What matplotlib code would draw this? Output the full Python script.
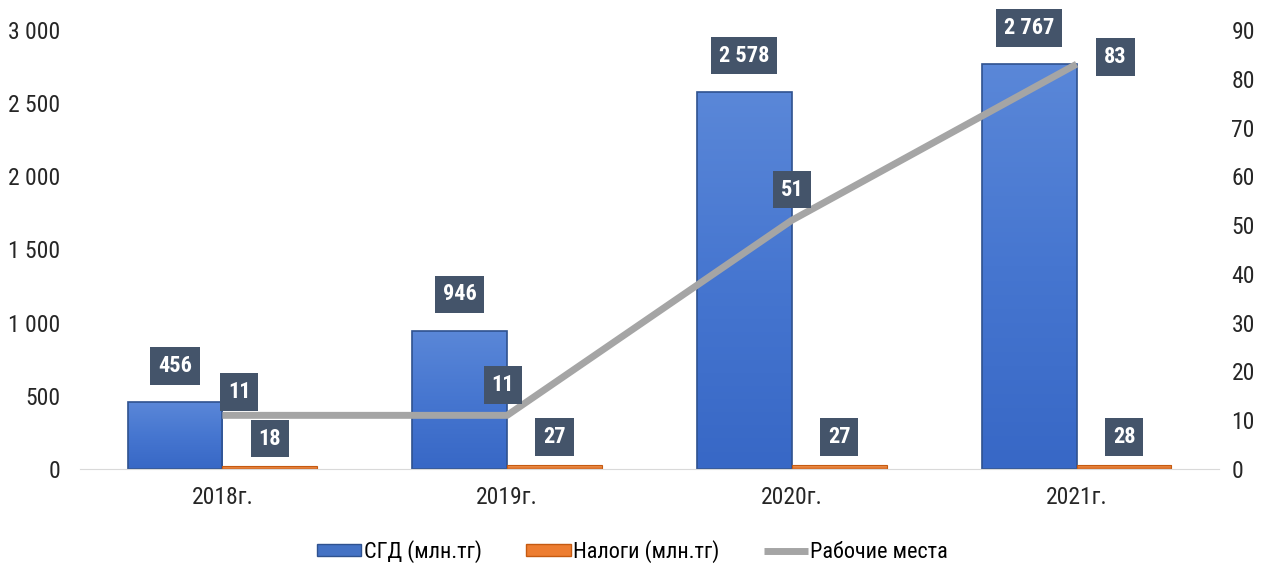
import matplotlib
matplotlib.use("Agg")
import matplotlib.pyplot as plt
import matplotlib.colors as mcolors
import numpy as np

categories = ["2018г.", "2019г.", "2020г.", "2021г."]
sgd = [456, 946, 2578, 2767]
taxes = [18, 27, 27, 28]
jobs = [11, 11, 51, 83]
left_ticks = [0, 500, 1000, 1500, 2000, 2500, 3000]
right_ticks = [0, 10, 20, 30, 40, 50, 60, 70, 80, 90]
series_names = ["СГД (млн.тг)", "Налоги (млн.тг)", "Рабочие места"]

plt.rcParams['font.family'] = ["Roboto Condensed", "DejaVu Sans"]

def fmt(v):
    return f"{v:,}".replace(",", " ")

fig = plt.figure(figsize=(12.65, 5.65), dpi=100)
ax = fig.add_axes([80/1265, 1-469/565, (1219-80)/1265, (469-30)/565])
ax2 = ax.twinx()

x = np.arange(len(categories))
w = 0.333
b1 = ax.bar(x - w/2, sgd, w, color="#4472C4", edgecolor="#2F528F", linewidth=1.2, zorder=2)
b2 = ax.bar(x + w/2, taxes, w, color="#ED7D31", edgecolor="#C55A11", linewidth=0.8, zorder=2)
ln, = ax2.plot(x, jobs, color="#A5A5A5", linewidth=5, solid_capstyle="butt", zorder=3)

ax.set_xlim(-0.5, 3.5)
ax.set_ylim(0, 3000)

# vertical gradient fill on bars (lighter at top)
cmap_b = mcolors.LinearSegmentedColormap.from_list("b", ["#3868C6", "#4676D0", "#5A87D8"])
cmap_o = mcolors.LinearSegmentedColormap.from_list("o", ["#D9681E", "#F4A060"])
grad = np.linspace(1, 0, 64).reshape(-1, 1)
for bars, cm in ((b1, cmap_b), (b2, cmap_o)):
    for r in bars:
        x0, y0 = r.get_x(), r.get_y()
        im = ax.imshow(grad, extent=[x0, x0 + r.get_width(), y0, y0 + r.get_height()],
                       cmap=cm, aspect="auto", zorder=1.9, interpolation="bilinear")
        im.set_clip_path(r)
    for r in bars:
        r.set_facecolor("none")
ax.set_xlim(-0.5, 3.5)
ax.set_ylim(0, 3000)
ax2.set_ylim(0, 90)
ax.set_yticks(left_ticks)
ax.set_yticklabels([fmt(t) for t in left_ticks])
ax2.set_yticks(right_ticks)
ax.set_xticks(x)
ax.set_xticklabels(categories)
for a in (ax, ax2):
    for s in a.spines.values():
        s.set_visible(False)
    a.tick_params(length=0, labelsize=17, colors="#262626")
ax.spines['bottom'].set_visible(True)
ax.spines['bottom'].set_color("#D9D9D9")
ax.tick_params(axis='y', pad=14)
ax2.tick_params(axis='y', pad=9)
ax.tick_params(axis='x', pad=12)

box = dict(boxstyle="square,pad=0.35", fc="#44546A", ec="none")
tkw = dict(color="white", fontsize=16, fontweight="bold", ha="center", va="center", bbox=box, zorder=5)

for xi, v in zip(x, sgd):
    ax.annotate(fmt(v), (xi - w/2, v), xytext=(0, 26), textcoords="offset points", **tkw)
for xi, v in zip(x, taxes):
    ax.annotate(fmt(v), (xi + w/2, v), xytext=(0, 20), textcoords="offset points", **tkw)
line_label_offsets = [(12, 17), (-3, 22), (0, 22), (28, 5)]
for xi, v, off in zip(x, jobs, line_label_offsets):
    ax2.annotate(str(v), (xi, v), xytext=off, textcoords="offset points", **tkw)

from matplotlib.patches import Patch
h1 = Patch(facecolor="#4472C4", edgecolor="#2F528F")
h2 = Patch(facecolor="#ED7D31", edgecolor="#C55A11")
leg = fig.legend([h1, h2, ln], series_names, loc="center", bbox_to_anchor=(0.5, 1-552/565),
                 ncol=3, frameon=False, fontsize=16, handlelength=2.0, handleheight=0.45,
                 columnspacing=2.0, handletextpad=0.1)

fig.savefig("out.png", dpi=100)
